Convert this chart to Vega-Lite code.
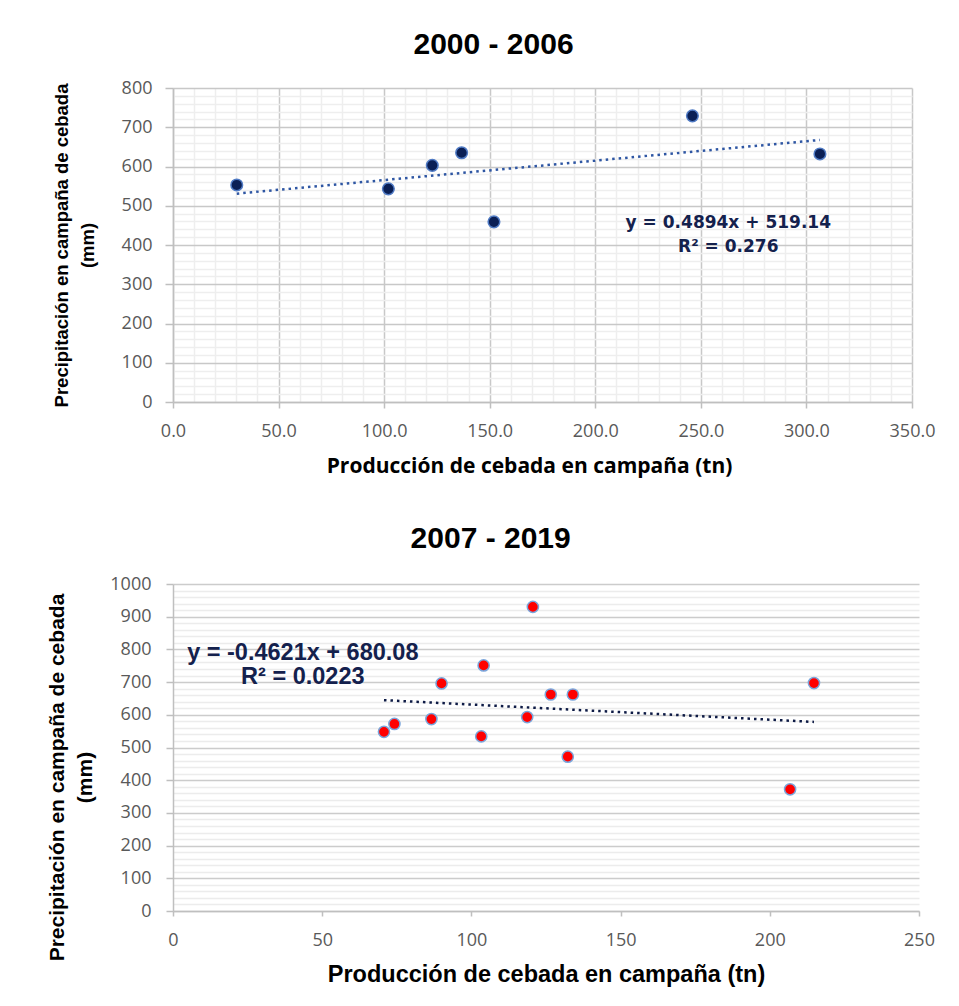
{
  "$schema": "https://vega.github.io/schema/vega-lite/v6.json",
  "background": "white",
  "padding": {"left": 46, "top": 30, "right": 10, "bottom": 5},
  "spacing": 48,
  "config": {
    "view": {"stroke": null},
    "axis": {"labelFont": "Open Sans", "labelColor": "#595959", "labelFontSize": 18, "labelFontWeight": "normal", "labelFlush": false, "labelOverlap": false}
  },
  "vconcat": [
    {
      "title": {"text": "2000 - 2006", "font": "Liberation Sans", "fontSize": 30, "fontWeight": "bold", "color": "#000000", "anchor": "middle", "frame": "bounds", "baseline": "alphabetic", "offset": -5},
      "width": 739,
      "height": 314,
      "data": {"values": [
        {"prod": 30.2, "prec": 553},
        {"prod": 102.0, "prec": 543},
        {"prod": 122.8, "prec": 603},
        {"prod": 136.7, "prec": 635},
        {"prod": 152.0, "prec": 459},
        {"prod": 246.0, "prec": 729},
        {"prod": 306.4, "prec": 632}
      ]},
      "layer": [
        {
          "transform": [{"regression": "prec", "on": "prod"}],
          "mark": {"type": "line", "color": "#2e56a3", "strokeWidth": 2.5, "strokeDash": [2.5, 4]},
          "encoding": {
            "x": {"field": "prod", "type": "quantitative", "scale": {"domain": [0, 350], "nice": false, "zero": false},
              "axis": {"orient": "top", "values": [10,20,30,40,60,70,80,90,110,120,130,140,160,170,180,190,210,220,230,240,260,270,280,290,310,320,330,340], "grid": true, "gridColor": "#eeeeee", "gridWidth": 1.5, "labels": false, "ticks": false, "domain": false, "title": null}},
            "y": {"field": "prec", "type": "quantitative", "scale": {"domain": [0, 800], "nice": false, "zero": false},
              "axis": {"orient": "right", "values": [20,40,60,80,120,140,160,180,220,240,260,280,320,340,360,380,420,440,460,480,520,540,560,580,620,640,660,680,720,740,760,780], "grid": true, "gridColor": "#eeeeee", "gridWidth": 1.5, "labels": false, "ticks": false, "domain": false, "title": null}}
          }
        },
        {
          "mark": {"type": "circle", "size": 135, "fill": "#0a1f55", "stroke": "#4f7ac4", "strokeWidth": 1.5, "opacity": 1},
          "encoding": {
            "x": {"field": "prod", "type": "quantitative", "scale": {"domain": [0, 350], "nice": false, "zero": false},
              "axis": {"orient": "bottom", "values": [0,50,100,150,200,250,300,350], "format": ".1f", "grid": true, "gridColor": "#c8c8c8", "gridWidth": 1.5, "domain": true, "domainColor": "#bfbfbf", "domainWidth": 1.5, "tickColor": "#bfbfbf", "tickWidth": 1.5, "tickSize": 6, "labelPadding": 14,
                "title": "Producción de cebada en campaña (tn)", "titleFont": "Open Sans", "titleFontSize": 21, "titleFontWeight": "bold", "titleColor": "#000000", "titlePadding": 15, "titleX": 356}},
            "y": {"field": "prec", "type": "quantitative", "scale": {"domain": [0, 800], "nice": false, "zero": false},
              "axis": {"orient": "left", "values": [0,100,200,300,400,500,600,700,800], "format": "d", "grid": true, "gridColor": "#c8c8c8", "gridWidth": 1.5, "domain": true, "domainColor": "#bfbfbf", "domainWidth": 1.5, "tickColor": "#bfbfbf", "tickWidth": 1.5, "tickSize": 8, "labelPadding": 13,
                "title": ["Precipitación en campaña de cebada", "(mm)"], "titleFont": "Liberation Sans", "titleFontSize": 18.5, "titleFontWeight": "bold", "titleColor": "#000000", "titlePadding": 24, "titleLineHeight": 26}}
          }
        },
        {
          "data": {"values": [{"lbl": "ecuación"}]},
          "mark": {"type": "text", "font": "DejaVu Sans", "fontSize": 17, "fontWeight": "bold", "color": "#14214d", "align": "center", "baseline": "middle", "lineHeight": 24},
          "encoding": {
            "x": {"datum": 263, "type": "quantitative", "axis": null},
            "y": {"datum": 456, "type": "quantitative", "axis": null},
            "text": {"value": ["y = 0.4894x + 519.14", "R² = 0.276"]}
          }
        }
      ],
      "resolve": {"axis": {"x": "independent", "y": "independent"}}
    },
    {
      "title": {"text": "2007 - 2019", "font": "Liberation Sans", "fontSize": 30, "fontWeight": "bold", "color": "#000000", "anchor": "middle", "frame": "bounds", "baseline": "alphabetic", "offset": -3},
      "width": 746,
      "height": 327,
      "data": {"values": [
        {"prod": 70.7, "prec": 548},
        {"prod": 74.2, "prec": 572},
        {"prod": 86.6, "prec": 587},
        {"prod": 90.0, "prec": 696},
        {"prod": 104.1, "prec": 751},
        {"prod": 103.3, "prec": 534},
        {"prod": 120.6, "prec": 930},
        {"prod": 118.7, "prec": 593},
        {"prod": 126.6, "prec": 662},
        {"prod": 134.0, "prec": 662},
        {"prod": 132.3, "prec": 472},
        {"prod": 214.8, "prec": 697},
        {"prod": 206.8, "prec": 372}
      ]},
      "layer": [
        {
          "transform": [{"regression": "prec", "on": "prod"}],
          "mark": {"type": "line", "color": "#0d1a45", "strokeWidth": 2.5, "strokeDash": [2.5, 4]},
          "encoding": {
            "x": {"field": "prod", "type": "quantitative", "scale": {"domain": [0, 250], "nice": false, "zero": false}},
            "y": {"field": "prec", "type": "quantitative", "scale": {"domain": [0, 1000], "nice": false, "zero": false},
              "axis": {"orient": "right", "values": [20,40,60,80,120,140,160,180,220,240,260,280,320,340,360,380,420,440,460,480,520,540,560,580,620,640,660,680,720,740,760,780,820,840,860,880,920,940,960,980], "grid": true, "gridColor": "#ececec", "gridWidth": 1.5, "labels": false, "ticks": false, "domain": false, "title": null}}
          }
        },
        {
          "mark": {"type": "circle", "size": 125, "fill": "#ff0000", "stroke": "#7aa6dc", "strokeWidth": 1.5, "opacity": 1},
          "encoding": {
            "x": {"field": "prod", "type": "quantitative", "scale": {"domain": [0, 250], "nice": false, "zero": false},
              "axis": {"orient": "bottom", "values": [0,50,100,150,200,250], "format": "d", "grid": false, "domain": true, "domainColor": "#bfbfbf", "domainWidth": 1.5, "tickColor": "#bfbfbf", "tickWidth": 1.5, "tickSize": 5, "labelPadding": 15,
                "title": "Producción de cebada en campaña (tn)", "titleFont": "Liberation Sans", "titleFontSize": 23.5, "titleFontWeight": "bold", "titleColor": "#000000", "titlePadding": 13}},
            "y": {"field": "prec", "type": "quantitative", "scale": {"domain": [0, 1000], "nice": false, "zero": false},
              "axis": {"orient": "left", "values": [0,100,200,300,400,500,600,700,800,900,1000], "format": "d", "grid": true, "gridColor": "#cccccc", "gridWidth": 1.5, "domain": true, "domainColor": "#bfbfbf", "domainWidth": 1.5, "tickColor": "#bfbfbf", "tickWidth": 1.5, "tickSize": 7, "labelPadding": 15,
                "title": ["Precipitación en campaña de cebada", "(mm)"], "titleFont": "Liberation Sans", "titleFontSize": 21, "titleFontWeight": "bold", "titleColor": "#000000", "titlePadding": 14, "titleLineHeight": 28, "titleY": 193}}
          }
        },
        {
          "data": {"values": [{"lbl": "ecuación"}]},
          "mark": {"type": "text", "font": "Liberation Sans", "fontSize": 23.5, "fontWeight": "bold", "color": "#14214d", "align": "center", "baseline": "middle", "lineHeight": 24},
          "encoding": {
            "x": {"datum": 43.5, "type": "quantitative"},
            "y": {"datum": 790, "type": "quantitative", "axis": null},
            "text": {"value": ["y = -0.4621x + 680.08", "R² = 0.0223"]}
          }
        }
      ],
      "resolve": {"axis": {"y": "independent"}}
    }
  ]
}
